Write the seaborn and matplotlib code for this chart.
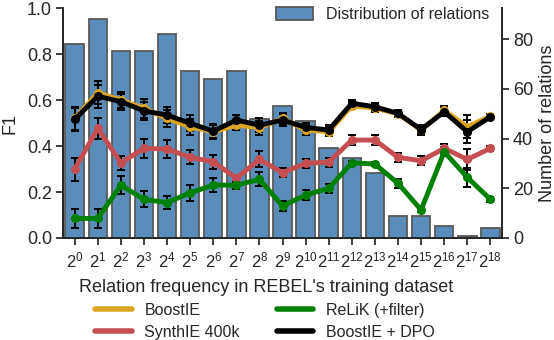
import numpy as np
import pandas as pd
import seaborn as sns
import matplotlib
matplotlib.use('Agg')
import matplotlib.pyplot as plt
from matplotlib.lines import Line2D

# exponents of the relation frequency buckets (2^0 .. 2^18)
exponents = list(range(19))
tick_labels = ['$2^{%d}$' % e for e in exponents]

# number of relations per bucket (right axis)
n_relations = [78, 88, 75, 75, 82, 67, 64, 67, 48, 53, 47, 36, 32, 26, 9, 9, 5, 1, 4]

# F1 per model (left axis)
boostie = [0.52, 0.632, 0.60, 0.564, 0.52, 0.484, 0.462, 0.491, 0.48, 0.52, 0.47, 0.462,
           0.575, 0.565, 0.54, 0.47, 0.555, 0.484, 0.53]
boostie_err = [0.05, 0.05, 0.035, 0.04, 0.035, 0.035, 0.03, 0.02, 0.03, 0.025, 0.02, 0.02,
               0.015, 0.015, 0.015, 0.02, 0.02, 0.05, 0.01]
synthie = [0.30, 0.477, 0.327, 0.39, 0.387, 0.351, 0.332, 0.26, 0.342, 0.284, 0.325, 0.33,
           0.426, 0.426, 0.351, 0.336, 0.39, 0.342, 0.39]
synthie_err = [0.05, 0.045, 0.03, 0.04, 0.04, 0.03, 0.03, 0.015, 0.035, 0.02, 0.02, 0.02,
               0.02, 0.02, 0.02, 0.02, 0.02, 0.045, 0.01]
relik = [0.085, 0.085, 0.23, 0.168, 0.154, 0.197, 0.23, 0.23, 0.255, 0.139, 0.187, 0.216,
         0.327, 0.322, 0.238, 0.122, 0.375, 0.264, 0.168]
relik_err = [0.043, 0.04, 0.04, 0.035, 0.03, 0.035, 0.03, 0.015, 0.03, 0.02, 0.02, 0.02,
             0.01, 0.01, 0.02, 0.01, 0.02, 0.04, 0.01]
boostie_dpo = [0.516, 0.617, 0.593, 0.553, 0.535, 0.499, 0.465, 0.513, 0.491, 0.513, 0.481, 0.47,
               0.586, 0.571, 0.542, 0.472, 0.549, 0.462, 0.527]
boostie_dpo_err = [0.05, 0.05, 0.035, 0.04, 0.035, 0.035, 0.03, 0.02, 0.03, 0.025, 0.02, 0.02,
                   0.015, 0.015, 0.015, 0.02, 0.02, 0.05, 0.01]

sns.set_theme(style='ticks')
plt.rcParams['font.family'] = ['Liberation Sans', 'DejaVu Sans']
plt.rcParams['mathtext.fontset'] = 'custom'
plt.rcParams['mathtext.rm'] = 'Liberation Sans'
plt.rcParams['mathtext.it'] = 'Liberation Sans'
plt.rcParams['mathtext.bf'] = 'Liberation Sans:bold'

fig = plt.figure(figsize=(5.54, 3.4), dpi=100)
ax = fig.add_axes([0.114, 0.30, 0.792, 0.676])
ax2 = ax.twinx()

# bars on the right axis
bar_df = pd.DataFrame({'bucket': tick_labels, 'count': n_relations})
sns.barplot(data=bar_df, x='bucket', y='count', ax=ax2, color='#5a8dba', saturation=1,
            edgecolor='0.35', linewidth=1.3, width=0.8, label='Distribution of relations')
ax2.set_ylim(0, 92.4)
ax2.set_yticks([0, 20, 40, 60, 80])
ax2.set_ylabel('Number of relations', fontsize=13, labelpad=4)
ax2.tick_params(labelsize=13, length=5, pad=3)
ax2.legend(loc='upper right', frameon=False, fontsize=11.5, borderaxespad=0.0,
           bbox_to_anchor=(0.985, 1.035), handlelength=2.3, handleheight=0.9)

# lines on the left axis, drawn above the bars
ax.set_zorder(ax2.get_zorder() + 1)
ax.patch.set_visible(False)
series = [
    ('BoostIE', boostie, boostie_err, '#daa520'),
    ('SynthIE 400k', synthie, synthie_err, '#c44e52'),
    ('ReLiK (+filter)', relik, relik_err, 'green'),
    ('BoostIE + DPO', boostie_dpo, boostie_dpo_err, 'black'),
]
for name, vals, errs, col in series:
    ax.errorbar(exponents, vals, yerr=errs, color=col, lw=3.5, marker='o', ms=5.5,
                ecolor='black', elinewidth=1.4, capsize=3, capthick=1.4, label=name)

ax.set_xlim(-0.5, 18.5)
ax.set_ylim(0, 1.0)
ax.set_yticks([0.0, 0.2, 0.4, 0.6, 0.8, 1.0])
ax.set_xticks(exponents)
ax.set_xticklabels(tick_labels)
ax.tick_params(labelsize=13, length=5, pad=3)
ax.tick_params(axis='x', labelsize=12, pad=4)
ax.set_ylabel('F1', fontsize=13, labelpad=6)
ax.set_xlabel("Relation frequency in REBEL's training dataset", fontsize=13)
ax.xaxis.set_label_coords(0.462, -0.18)
ax2.set_xlabel('')

for a in (ax, ax2):
    a.spines['top'].set_visible(False)

labels = [s[0] for s in series]
handles = [Line2D([], [], color=c, lw=4) for _, _, _, c in series]
fig.legend(handles, labels, ncol=2, frameon=False, fontsize=11.5, loc='upper center',
           bbox_to_anchor=(0.478, 0.11), columnspacing=2.3, handlelength=2.3,
           labelspacing=0.45, handletextpad=0.8, borderaxespad=0.0, borderpad=0.0)

fig.savefig('out.png', dpi=100)
